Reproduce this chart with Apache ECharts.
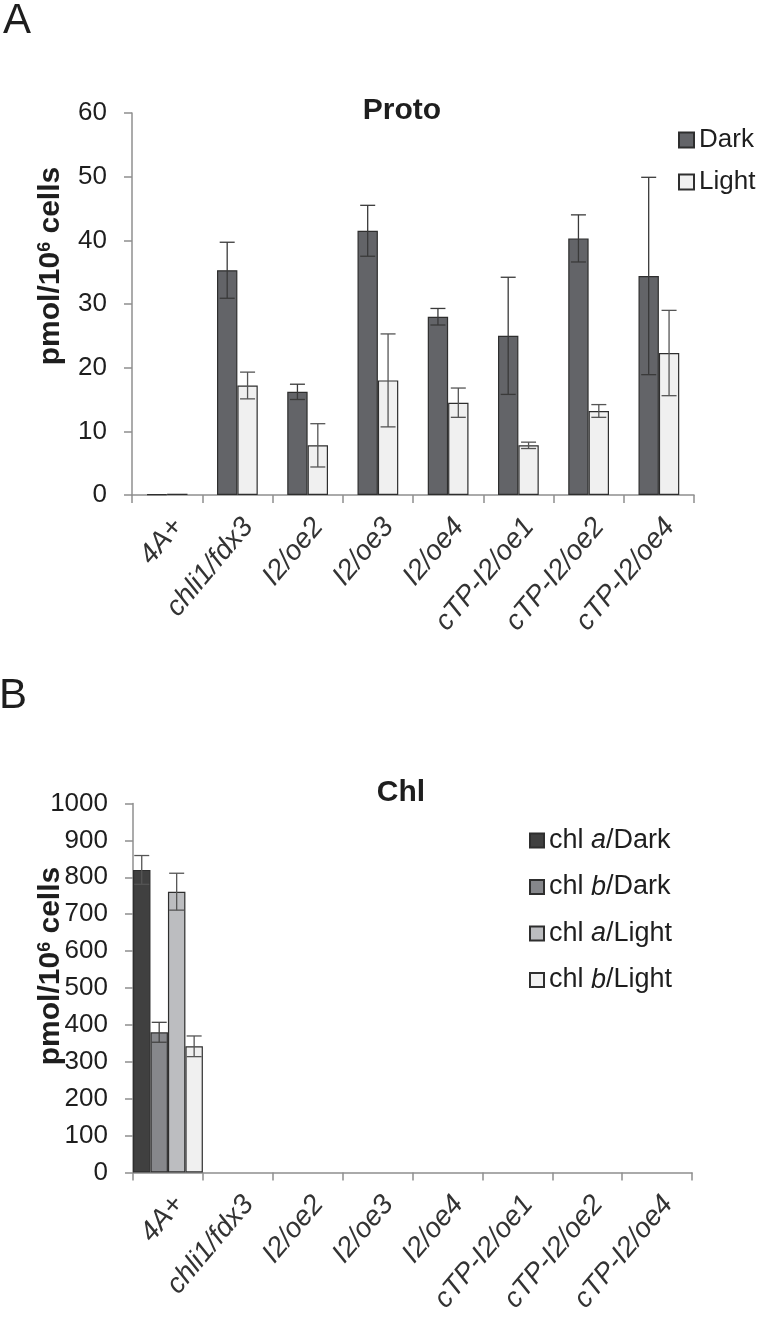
<!DOCTYPE html>
<html><head><meta charset="utf-8">
<script src="https://cdn.jsdelivr.net/npm/echarts@6/dist/echarts.min.js"></script>
<style>html,body{margin:0;padding:0;background:#fff}#c{width:760px;height:1317px}</style>
</head><body><div id="c"></div>
<script>
const categories = ['4A+','chli1/fdx3','I2/oe2','I2/oe3','I2/oe4','cTP-I2/oe1','cTP-I2/oe2','cTP-I2/oe4'];
// Panel A: Proto
const protoDark     = [0.1, 35.3, 16.2, 41.5, 28.0, 25.0, 40.3, 34.4];
const protoDarkErr  = [null, 4.4, 1.2, 4.0, 1.3, 9.2, 3.7, 15.5];
const protoLight    = [0.2, 17.2, 7.8, 18.0, 14.5, 7.8, 13.2, 22.3];
const protoLightErr = [null, 2.1, 3.4, 7.3, 2.3, 0.5, 1.0, 6.7];
// Panel B: Chl
const chlADark     = [820, null, null, null, null, null, null, null];
const chlADarkErr  = [39, null, null, null, null, null, null, null];
const chlBDark     = [380, null, null, null, null, null, null, null];
const chlBDarkErr  = [27, null, null, null, null, null, null, null];
const chlALight    = [761, null, null, null, null, null, null, null];
const chlALightErr = [50, null, null, null, null, null, null, null];
const chlBLight    = [342, null, null, null, null, null, null, null];
const chlBLightErr = [28, null, null, null, null, null, null, null];

const FF = 'Liberation Sans, Arial, Helvetica, sans-serif';
const AXIS = '#8f8f8f';
const TXT = '#1e1e1e';

function errData(vals, errs){
  const out = [];
  vals.forEach((v,i)=>{ if(v!=null && errs[i]!=null) out.push([i, v, errs[i]]); });
  return out;
}
function errSeries(vals, errs, off, frac, axisIdx, color){
  return {
    type:'custom', xAxisIndex:axisIdx, yAxisIndex:axisIdx, z:10, silent:true,
    data: errData(vals, errs),
    renderItem: function(params, api){
      const ci = api.value(0), v = api.value(1), e = api.value(2);
      const band = api.size([1,0])[0];
      const w = band*frac;
      const t = api.coord([ci, v+e]);
      const b = api.coord([ci, v-e]);
      const x = t[0] + off*w;
      const cap = 7.5;
      const st = {stroke:color, lineWidth:1.3};
      return {type:'group', children:[
        {type:'line', shape:{x1:x,y1:t[1],x2:x,y2:b[1]}, style:st},
        {type:'line', shape:{x1:x-cap,y1:t[1],x2:x+cap,y2:t[1]}, style:st},
        {type:'line', shape:{x1:x-cap,y1:b[1],x2:x+cap,y2:b[1]}, style:st}
      ]};
    }
  };
}
function barS(name, data, color, axisIdx, width){
  return {name, type:'bar', data, xAxisIndex:axisIdx, yAxisIndex:axisIdx,
    barWidth:width, barGap:'0%',
    itemStyle:{color, borderColor:'#2e2e2e', borderWidth:1.2}};
}
const xAxisBase = (gi)=>({
  type:'category', gridIndex:gi, data:categories,
  axisLine:{lineStyle:{color:AXIS, width:1.5}},
  axisTick:{show:true, length:8, lineStyle:{color:AXIS, width:1.5}},
  axisLabel:{rotate:50, fontStyle:'italic', fontSize:28, color:'#333', fontFamily:FF, margin:18, interval:0,
    verticalAlign:'top'}
});
const yAxisBase = (gi, max, interval)=>({
  type:'value', gridIndex:gi, min:0, max, interval,
  splitLine:{show:false},
  axisLine:{show:true, lineStyle:{color:AXIS, width:1.5}},
  axisTick:{show:true, length:8, lineStyle:{color:AXIS, width:1.5}},
  axisLabel:{fontSize:26, color:TXT, fontFamily:FF, margin:25, formatter:v=>String(v)}
});

const chart = echarts.init(document.getElementById('c'), null, {renderer:'canvas'});
const legendFmt = n => n.replace(/^chl (a|b)\//, 'chl {i|$1}/');
chart.setOption({
  backgroundColor:'#fff',
  animation:false,
  textStyle:{fontFamily:FF},
  title:[
    {text:'Proto', left:397, top:91, textAlign:'center', textStyle:{fontSize:30, fontWeight:'bold', color:TXT, fontFamily:FF}},
    {text:'Chl', left:396, top:773, textAlign:'center', textStyle:{fontSize:30, fontWeight:'bold', color:TXT, fontFamily:FF}}
  ],
  legend:[
    {data:['Dark','Light'], orient:'vertical', left:673, top:122, icon:'rect', itemWidth:15, itemHeight:15, itemGap:16,
     textStyle:{fontSize:26, color:TXT, fontFamily:FF}},
    {data:['chl a/Dark','chl b/Dark','chl a/Light','chl b/Light'], orient:'vertical', left:524, top:822, icon:'rect',
     itemWidth:14, itemHeight:14, itemGap:19.5, formatter:legendFmt,
     textStyle:{fontSize:27, color:TXT, fontFamily:FF, rich:{i:{fontSize:27, fontStyle:'italic', color:TXT, fontFamily:FF}}}}
  ],
  grid:[
    {left:132, top:113, width:562, height:382},
    {left:133, top:803.5, width:559, height:369}
  ],
  xAxis:[xAxisBase(0), xAxisBase(1)],
  yAxis:[yAxisBase(0, 60, 10), yAxisBase(1, 1000, 100)],
  graphic:[
    {type:'text', left:3, top:0, style:{text:'A', font:'42px '+FF, fill:TXT}},
    {type:'text', left:-1, top:675, style:{text:'B', font:'42px '+FF, fill:TXT}},
    {type:'text', x:51, y:266, rotation:Math.PI/2, style:{text:'pmol/10{s|6} cells', font:'bold 30px '+FF, fill:TXT, align:'center', verticalAlign:'middle',
      rich:{s:{font:'bold 18px '+FF, fill:TXT, verticalAlign:'top'}}}},
    {type:'text', x:51, y:966, rotation:Math.PI/2, style:{text:'pmol/10{s|6} cells', font:'bold 30px '+FF, fill:TXT, align:'center', verticalAlign:'middle',
      rich:{s:{font:'bold 18px '+FF, fill:TXT, verticalAlign:'top'}}}}
  ],
  series:[
    barS('Dark', protoDark, '#636468', 0, '29%'),
    barS('Light', protoLight, '#f0f0f0', 0, '29%'),
    errSeries(protoDark, protoDarkErr, -0.5, 0.29, 0, '#3a3a3a'),
    errSeries(protoLight, protoLightErr, 0.5, 0.29, 0, '#555'),
    barS('chl a/Dark', chlADark, '#404040', 1, '25%'),
    barS('chl b/Dark', chlBDark, '#86878b', 1, '25%'),
    barS('chl a/Light', chlALight, '#bcbdc0', 1, '25%'),
    barS('chl b/Light', chlBLight, '#f0f0f0', 1, '25%'),
    errSeries(chlADark, chlADarkErr, -1.5, 0.25, 1, '#555'),
    errSeries(chlBDark, chlBDarkErr, -0.5, 0.25, 1, '#444'),
    errSeries(chlALight, chlALightErr, 0.5, 0.25, 1, '#555'),
    errSeries(chlBLight, chlBLightErr, 1.5, 0.25, 1, '#555')
  ]
});
</script></body></html>
